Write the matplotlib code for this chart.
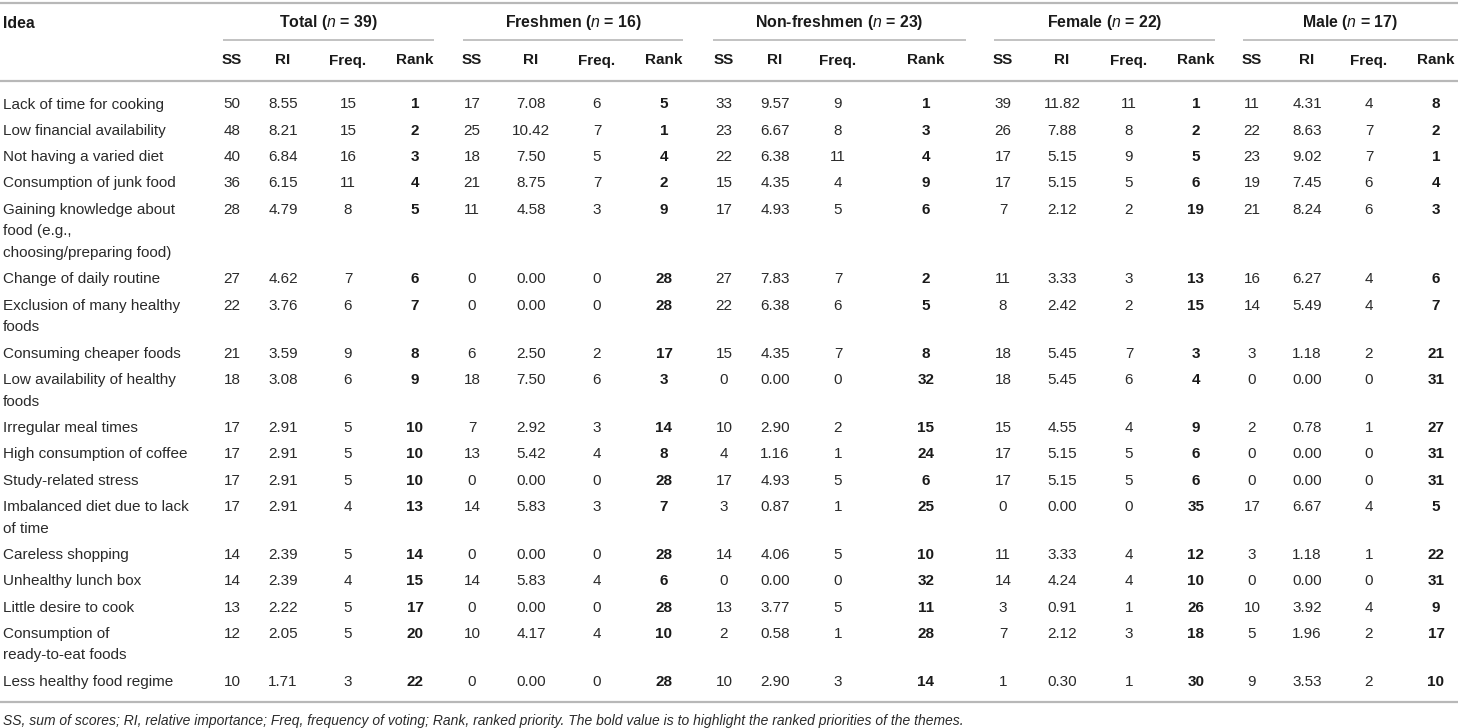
import matplotlib
matplotlib.use("Agg")
import matplotlib.pyplot as plt

plt.rcParams['font.family'] = ['Liberation Sans', 'DejaVu Sans']
plt.rcParams['mathtext.fontset'] = 'custom'
plt.rcParams['mathtext.rm'] = 'Liberation Sans'
plt.rcParams['mathtext.it'] = 'Liberation Sans:italic'
plt.rcParams['mathtext.bf'] = 'Liberation Sans:bold'

# table content
groups = ["Total", "Freshmen", "Non-freshmen", "Female", "Male"]
group_n = [39, 16, 23, 22, 17]
sub_cols = ["SS", "RI", "Freq.", "Rank"]

ideas = [
    "Lack of time for cooking",
    "Low financial availability",
    "Not having a varied diet",
    "Consumption of junk food",
    "Gaining knowledge about\nfood (e.g.,\nchoosing/preparing food)",
    "Change of daily routine",
    "Exclusion of many healthy\nfoods",
    "Consuming cheaper foods",
    "Low availability of healthy\nfoods",
    "Irregular meal times",
    "High consumption of coffee",
    "Study-related stress",
    "Imbalanced diet due to lack\nof time",
    "Careless shopping",
    "Unhealthy lunch box",
    "Little desire to cook",
    "Consumption of\nready-to-eat foods",
    "Less healthy food regime",
]

total = [
    [50, "8.55", 15, 1], [48, "8.21", 15, 2], [40, "6.84", 16, 3], [36, "6.15", 11, 4],
    [28, "4.79", 8, 5], [27, "4.62", 7, 6], [22, "3.76", 6, 7], [21, "3.59", 9, 8],
    [18, "3.08", 6, 9], [17, "2.91", 5, 10], [17, "2.91", 5, 10], [17, "2.91", 5, 10],
    [17, "2.91", 4, 13], [14, "2.39", 5, 14], [14, "2.39", 4, 15], [13, "2.22", 5, 17],
    [12, "2.05", 5, 20], [10, "1.71", 3, 22],
]
freshmen = [
    [17, "7.08", 6, 5], [25, "10.42", 7, 1], [18, "7.50", 5, 4], [21, "8.75", 7, 2],
    [11, "4.58", 3, 9], [0, "0.00", 0, 28], [0, "0.00", 0, 28], [6, "2.50", 2, 17],
    [18, "7.50", 6, 3], [7, "2.92", 3, 14], [13, "5.42", 4, 8], [0, "0.00", 0, 28],
    [14, "5.83", 3, 7], [0, "0.00", 0, 28], [14, "5.83", 4, 6], [0, "0.00", 0, 28],
    [10, "4.17", 4, 10], [0, "0.00", 0, 28],
]
non_freshmen = [
    [33, "9.57", 9, 1], [23, "6.67", 8, 3], [22, "6.38", 11, 4], [15, "4.35", 4, 9],
    [17, "4.93", 5, 6], [27, "7.83", 7, 2], [22, "6.38", 6, 5], [15, "4.35", 7, 8],
    [0, "0.00", 0, 32], [10, "2.90", 2, 15], [4, "1.16", 1, 24], [17, "4.93", 5, 6],
    [3, "0.87", 1, 25], [14, "4.06", 5, 10], [0, "0.00", 0, 32], [13, "3.77", 5, 11],
    [2, "0.58", 1, 28], [10, "2.90", 3, 14],
]
female = [
    [39, "11.82", 11, 1], [26, "7.88", 8, 2], [17, "5.15", 9, 5], [17, "5.15", 5, 6],
    [7, "2.12", 2, 19], [11, "3.33", 3, 13], [8, "2.42", 2, 15], [18, "5.45", 7, 3],
    [18, "5.45", 6, 4], [15, "4.55", 4, 9], [17, "5.15", 5, 6], [17, "5.15", 5, 6],
    [0, "0.00", 0, 35], [11, "3.33", 4, 12], [14, "4.24", 4, 10], [3, "0.91", 1, 26],
    [7, "2.12", 3, 18], [1, "0.30", 1, 30],
]
male = [
    [11, "4.31", 4, 8], [22, "8.63", 7, 2], [23, "9.02", 7, 1], [19, "7.45", 6, 4],
    [21, "8.24", 6, 3], [16, "6.27", 4, 6], [14, "5.49", 4, 7], [3, "1.18", 2, 21],
    [0, "0.00", 0, 31], [2, "0.78", 1, 27], [0, "0.00", 0, 31], [0, "0.00", 0, 31],
    [17, "6.67", 4, 5], [3, "1.18", 1, 22], [0, "0.00", 0, 31], [10, "3.92", 4, 9],
    [5, "1.96", 2, 17], [9, "3.53", 2, 10],
]
group_data = [total, freshmen, non_freshmen, female, male]

footnote = ("SS, sum of scores; RI, relative importance; Freq, frequency of voting; "
            "Rank, ranked priority. The bold value is to highlight the ranked priorities of the themes.")

# layout (pixel coordinates)
W, H = 1458, 728
col_x = [[232, 283, 348, 415], [472, 531, 597, 664], [724, 775, 838, 926],
         [1003, 1062, 1129, 1196], [1252, 1307, 1369, 1436]]
span_x = [(223, 434), (463, 683), (713, 966), (994, 1215), (1243, 1458)]
row_pitch = 26.3
line_pitch = 21.7
fs = 11
txt_col = '#2a2a2a'
hdr_col = '#1a1a1a'
rule_col = '#b8b8b8'

fig = plt.figure(figsize=(W / 100, H / 100), dpi=100)
ax = fig.add_axes([0, 0, 1, 1])
ax.set_xlim(0, W)
ax.set_ylim(H, 0)
ax.axis('off')

def put(x, y, s, **kw):
    # y is the visual center of a line; put baseline a little below
    ax.text(x, y + 5.5, s, va='baseline', fontsize=kw.pop('fontsize', fs), **kw)

# rules
ax.plot([0, W], [3, 3], color=rule_col, lw=1.6, solid_capstyle='butt')
ax.plot([0, W], [81, 81], color=rule_col, lw=1.6, solid_capstyle='butt')
for x0, x1 in span_x:
    ax.plot([x0, x1], [39.5, 39.5], color=rule_col, lw=1.2, solid_capstyle='butt')

# headers
put(3, 22, "Idea", fontweight='bold', color=hdr_col, fontsize=11.4)
for (x0, x1), g, n in zip(span_x, groups, group_n):
    put((x0 + x1) / 2, 22, g + r" ($\mathit{n}$ = " + str(n) + ")",
        ha='center', fontweight='bold', color=hdr_col, fontsize=11.4)
for xs in col_x:
    for x, c in zip(xs, sub_cols):
        put(x, 59, c, ha='center', fontweight='bold', color=hdr_col)

# body
y = 103
for i, idea in enumerate(ideas):
    lines = idea.split("\n")
    for k, ln in enumerate(lines):
        put(3, y + k * line_pitch, ln, color=txt_col)
    for xs, data in zip(col_x, group_data):
        vals = data[i]
        for j, (x, v) in enumerate(zip(xs, vals)):
            put(x, y, str(v), ha='center', color=txt_col if j < 3 else hdr_col,
                fontweight='bold' if j == 3 else 'normal')
    y += row_pitch + line_pitch * (len(lines) - 1)

ax.plot([0, W], [702, 702], color=rule_col, lw=1.6, solid_capstyle='butt')
put(3, 719, footnote, style='italic', color=txt_col, fontsize=10)

fig.savefig("out.png", dpi=100)
